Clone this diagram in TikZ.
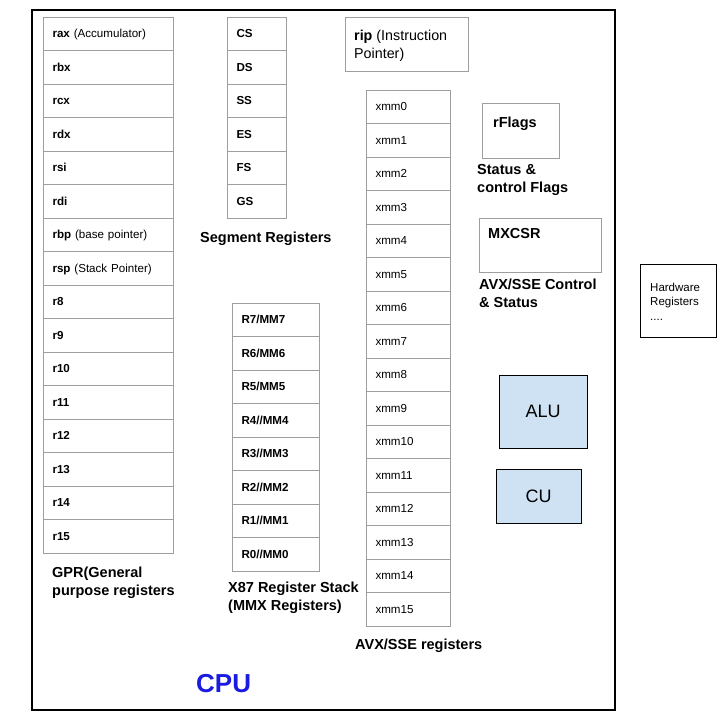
\documentclass[tikz,border=0pt]{standalone}
\usepackage{fontspec}
\setmainfont{Liberation Sans}
\definecolor{cellgray}{HTML}{9E9E9E}
\definecolor{unitblue}{HTML}{CFE2F3}
\definecolor{cpublue}{HTML}{1A1AE0}
\tikzset{
  cell/.style={draw=cellgray, line width=0.8pt, minimum height=33.5pt, inner xsep=9.5pt, inner ysep=0pt, text height=8.2pt, text depth=0pt, align=left, font=\fontsize{11.6}{14}\selectfont},
  graybox/.style={draw=cellgray, line width=0.8pt},
  unitbox/.style={draw=black, line width=0.9pt, fill=unitblue, font=\fontsize{18}{21}\selectfont},
  lbl/.style={anchor=base west, inner sep=0pt, align=left, font=\fontsize{14.5}{17.5}\selectfont\bfseries},
  boxtxt/.style={anchor=base west, inner sep=0pt, align=left, font=\fontsize{14.3}{17.5}\selectfont}
}
\begin{document}
\begin{tikzpicture}[x=1pt, y=-1pt]
\useasboundingbox (0,0) rectangle (725,716);
% CPU outline
\draw[line width=1.3pt] (32,10) rectangle (615,710);
\node[anchor=base west, inner sep=0pt, text=cpublue, font=\fontsize{26}{30}\selectfont\bfseries] (cpu) at (196,692) {CPU};
% GPR
\foreach \t [count=\i] in {{\textbf{rax} (Accumulator)},\textbf{rbx},\textbf{rcx},\textbf{rdx},\textbf{rsi},\textbf{rdi},{\textbf{rbp} (base pointer)},{\textbf{rsp} (Stack Pointer)},\textbf{r8},\textbf{r9},\textbf{r10},\textbf{r11},\textbf{r12},\textbf{r13},\textbf{r14},\textbf{r15}}
  \node[cell, text width=111pt] (g\i) at (108,{17+33.5*(\i-0.5)}) {\t};
\node[lbl] (gprlbl) at (52,595) {GPR(General\\purpose registers};
% Segment registers
\foreach \t [count=\i] in {CS,DS,SS,ES,FS,GS}
  \node[cell, text width=40pt, font=\fontsize{11.6}{14}\selectfont\bfseries] (s\i) at (256.5,{17+33.5*(\i-0.5)}) {\t};
\node[lbl] (seglbl) at (200,242) {Segment Registers};
% X87
\foreach \t [count=\i] in {R7/MM7,R6/MM6,R5/MM5,R4//MM4,R3//MM3,R2//MM2,R1//MM1,R0//MM0}
  \node[cell, text width=68pt, font=\fontsize{11.6}{14}\selectfont\bfseries] (x\i) at (275.5,{303+33.5*(\i-0.5)}) {\t};
\node[lbl] (x87lbl) at (228,610) {X87 Register Stack\\(MMX Registers)};
% XMM
\foreach \i in {0,...,15}
  \node[cell, text width=65pt] (m\i) at (408,{90+33.5*(\i+0.5)}) {xmm\i};
\node[lbl] (avxlbl) at (355,649) {AVX/SSE registers};
% rip
\draw[graybox] (345,17) rectangle (468,71);
\node[boxtxt] (rip) at (354,58) {\textbf{rip} (Instruction\\Pointer)};
% rFlags
\draw[graybox] (482,103) rectangle (559,158);
\node[lbl] (rflags) at (493,127) {rFlags};
\node[lbl] (rflagslbl) at (477,192) {Status \&\\control Flags};
% MXCSR
\draw[graybox] (479,218) rectangle (601,272);
\node[lbl] (mxcsr) at (488,238) {MXCSR};
\node[lbl] (mxcsrlbl) at (479,307) {AVX/SSE Control\\\& Status};
% ALU / CU
\node[unitbox, minimum width=88pt, minimum height=73pt] (alu) at (543,411.5) {ALU};
\node[unitbox, minimum width=85pt, minimum height=54pt] (cu) at (538.5,496) {CU};
% Hardware registers
\draw[line width=0.9pt] (640,264) rectangle (716,337);
\node[anchor=base west, inner sep=0pt, align=left, font=\fontsize{11.5}{14.5}\selectfont] (hw) at (650,320) {Hardware\\Registers\\....};
\end{tikzpicture}
\end{document}
